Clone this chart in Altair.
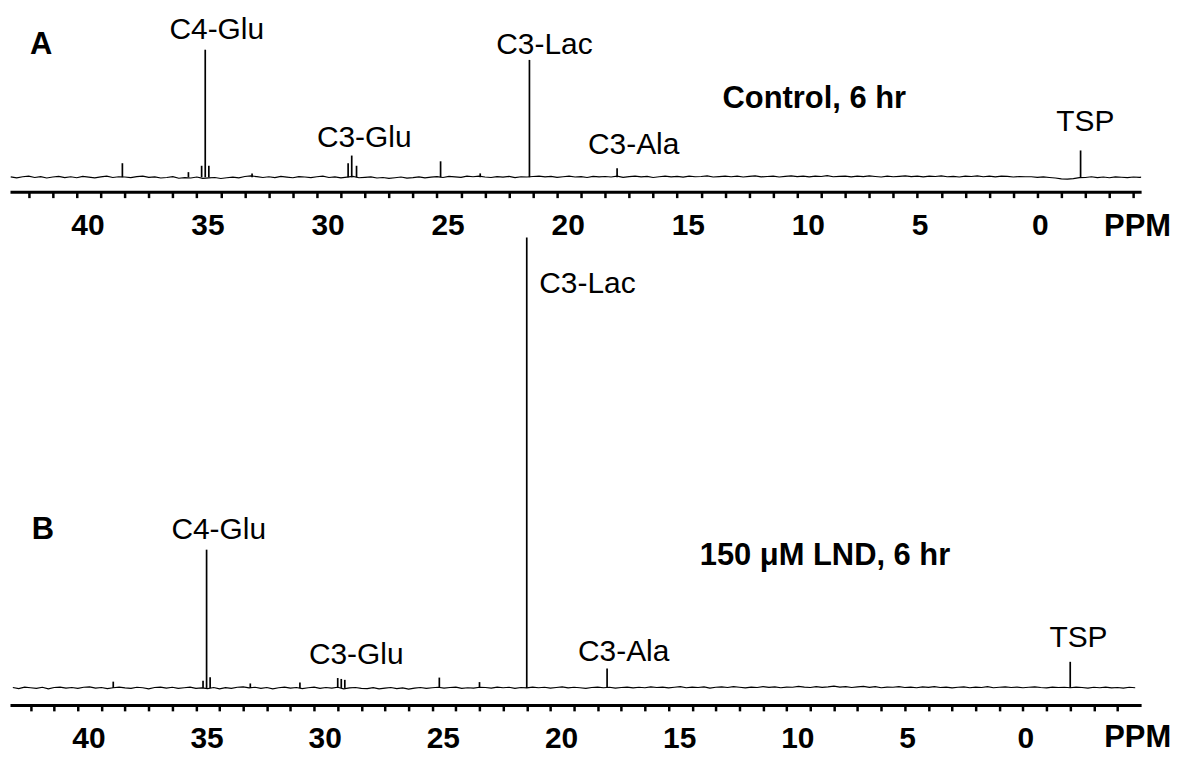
import altair as alt
import pandas as pd

# ---------------- data ----------------
# chemical-shift grid (ppm) for the hand-read baseline noise
grid_ppm = [42.75 - 0.25 * i for i in range(191)]

# baseline level (arbitrary units, C4-Glu = 100)
base_A = [0.3, -0.5, 0.4, 0.9, -0.2, 0.5, -0.6, 0.2, 0.7, -0.3,
          0.4, -0.4, 0.6, 0.1, -0.5, 0.3, 0.8, -0.2, 0.4, 0.2,
          -0.3, 0.5, 0.9, -0.1, 0.3, -0.6, -0.2, 0.4, -0.8, -0.3,
          -0.6, 0.2, -0.9, -0.5, -0.2, -1.0, -0.4, 0.1, -0.5, 0.6,
          1.0, 0.5, -0.2, 0.4, -0.3, 0.6, 0.1, -0.4, 0.5, 0.2,
          -0.3, 0.4, 0.8, -0.2, 0.3, -0.5, 0.1, 0.6, -0.4, -0.1,
          0.3, -0.6, -0.2, -0.9, -0.4, 0.2, -0.7, -0.3, 0.3, -0.5,
          0.1, 0.5, -0.2, 0.6, 0.3, -0.1, 0.8, 0.4, 0.9, 0.2,
          -0.2, 0.5, 0.1, 0.7, -0.3, 0.4, 0.2, 0.6, 0.9, 0.3,
          0.6, -0.1, 0.4, 0.8, 0.2, 0.5, -0.2, 0.7, 0.3, 0.6,
          0.2, 0.8, -0.1, 0.5, 0.9, 0.3, 0.6, -0.2, 0.4, 0.8,
          0.3, 0.7, 0.1, 0.9, 0.4, 0.6, 1.0, 0.2, 0.5, 0.8,
          0.4, 0.9, 0.2, 0.7, 1.1, 0.3, 0.6, 0.9, 0.2, 0.7,
          1.0, 0.5, 0.8, 0.3, 0.9, 0.6, 1.2, 0.4, 0.7, 0.9,
          0.3, 0.8, 0.5, 1.1, 0.6, 0.2, 0.9, 0.4, 0.7, 1.0,
          0.5, 0.8, 0.3, 0.9, 0.6, 1.0, 0.4, 0.7, 0.2, 0.8,
          0.6, 1.1, 0.4, 0.8, 0.3, 0.9, 0.7, 0.2, 0.6, 0.4,
          0.4, -0.1, 0.3, -0.2, -0.6, -1.3, -1.5, -1.1, -0.3, -0.2,
          0.4, -0.3, 0.2, -0.4, 0.3, 0.0, -0.3, 0.2, -0.1, 0.3,
          0.1]

# baseline level (arbitrary units, C3-Lac = 100)
base_B = [0.1, -0.15, 0.2, 0.05, -0.1, 0.15, -0.2, 0.1, 0.2, -0.05,
          0.1, -0.1, 0.15, 0.25, -0.05, 0.1, -0.15, 0.05, 0.2, 0.0,
          -0.1, 0.15, 0.05, -0.2, 0.1, 0.2, -0.05, 0.15, -0.1, 0.05,
          0.2, -0.1, 0.0, -0.15, 0.1, -0.2, 0.05, -0.1, 0.15, 0.25,
          0.0, 0.15, -0.1, 0.1, -0.2, 0.05, 0.2, -0.05, 0.1, -0.15,
          0.05, 0.2, -0.1, 0.1, -0.05, 0.15, -0.2, 0.0, 0.1, -0.1,
          -0.15, 0.05, -0.2, -0.05, 0.1, -0.15, 0.0, -0.25, -0.05, 0.1,
          -0.1, 0.05, 0.15, -0.05, 0.1, 0.2, -0.1, 0.05, -0.05, 0.15,
          0.1, -0.05, 0.2, 0.05, 0.15, -0.1, 0.1, 0.0, 0.2, 0.05,
          0.15, -0.05, 0.1, 0.25, 0.0, 0.15, 0.05, -0.1, 0.1, 0.2,
          0.05, 0.15, -0.05, 0.1, 0.2, 0.0, 0.15, 0.05, 0.25, 0.1,
          0.2, 0.0, 0.15, 0.3, 0.05, 0.2, 0.1, 0.25, -0.05, 0.15,
          0.25, 0.1, 0.3, 0.15, 0.0, 0.2, 0.1, 0.3, 0.15, 0.25,
          0.05, 0.2, 0.15, 0.35, 0.2, 0.1, 0.3, 0.15, 0.25, 0.4,
          0.2, 0.3, 0.1, 0.25, 0.35, 0.15, 0.3, 0.05, 0.2, 0.15,
          0.3, 0.1, 0.2, 0.05, 0.25, 0.15, 0.3, 0.1, 0.2, 0.0,
          0.15, 0.25, 0.05, 0.2, 0.1, 0.3, 0.05, 0.15, 0.25, 0.1,
          0.2, 0.05, 0.15, 0.25, 0.1, 0.0, 0.2, 0.1, 0.15, 0.05,
          0.2, 0.1, -0.05, 0.15, 0.05, 0.2, 0.0, 0.1, -0.05, 0.15,
          0.05]

# resonances (ppm) and peak intensities
peak_ppm_A = [38.1, 35.35, 34.8, 34.65, 34.5, 32.7, 28.7, 28.55, 28.35, 24.85, 23.2, 21.15, 17.5, -1.8]
peak_int_A = [11, 4, 9, 100, 9, 3, 11, 17, 9, 12.5, 3, 92, 7, 21]

peak_ppm_B = [38.5, 34.7, 34.55, 34.4, 32.7, 30.6, 29.0, 28.85, 28.7, 24.7, 23.0, 21.0, 17.6, -2.0]
peak_int_B = [1.4, 1.6, 30.7, 2.4, 1.0, 1.2, 2.2, 2.0, 1.8, 2.3, 1.3, 100, 4.3, 5.8]

# annotations (anchored in data units: ppm, intensity)
label_text_A = ["C4-Glu", "C3-Lac", "C3-Glu", "C3-Ala", "TSP"]
label_ppm_A = [36.14, 22.53, 30.0, 18.71, -0.79]
label_int_A = [108.2, 96.5, 23.8, 18.4, 36.3]
title_text_A = ["A", "Control, 6 hr", "PPM"]
title_ppm_A = [41.95, 13.11, -2.78]
title_int_A = [96.5, 54.3, -45.7]

label_text_B = ["C4-Glu", "C3-Lac", "C3-Glu", "C3-Ala", "TSP"]
label_ppm_B = [36.04, 20.47, 30.22, 18.83, -1.12]
label_int_B = [32.96, 87.6, 5.3, 6.0, 9.1]
title_text_B = ["B", "150 \u03bcM LND, 6 hr", "PPM"]
title_ppm_B = [41.95, 13.68, -3.44]
title_int_B = [32.96, 27.2, -13.05]

tick_values = list(range(-4, 43))

FONT = "Liberation Sans"


def panel(base_vals, pk_ppm, pk_int, lab_txt, lab_ppm, lab_int,
          tit_txt, tit_ppm, tit_int, xdom, ydom, h):
    x = alt.X(
        "ppm:Q",
        title=None,
        scale=alt.Scale(domain=xdom, nice=False, zero=False),
        axis=alt.Axis(
            values=tick_values,
            labelExpr="datum.value % 5 === 0 ? datum.label : ''",
            labelFont=FONT, labelFontSize=30, labelFontWeight="bold",
            labelColor="black", labelAlign="left", labelOffset=-6,
            labelPadding=13, labelOverlap=False, labelFlush=False,
            tickSize=6, tickWidth=2.5, tickColor="black",
            domainWidth=3, domainColor="black", grid=False, orient="bottom",
        ),
    )
    y = alt.Y("val:Q", axis=None,
              scale=alt.Scale(domain=ydom, nice=False, zero=False))

    line = alt.Chart(pd.DataFrame({"ppm": grid_ppm, "val": base_vals})).mark_line(
        color="black", strokeWidth=1.2, clip=True
    ).encode(x=x, y=y)

    peaks = alt.Chart(pd.DataFrame({"ppm": pk_ppm, "val": pk_int,
                                    "base": [0] * len(pk_ppm)})).mark_rule(
        color="black", strokeWidth=1.7
    ).encode(x=x, y=y, y2="base:Q")

    labels = alt.Chart(pd.DataFrame({"ppm": lab_ppm, "val": lab_int, "t": lab_txt})).mark_text(
        align="left", baseline="alphabetic", font=FONT, fontSize=30, color="black"
    ).encode(x=x, y=y, text="t:N")

    titles = alt.Chart(pd.DataFrame({"ppm": tit_ppm, "val": tit_int, "t": tit_txt})).mark_text(
        align="left", baseline="alphabetic", font=FONT, fontSize=31,
        fontWeight="bold", color="black"
    ).encode(x=x, y=y, text="t:N")

    return alt.layer(line, peaks, labels, titles).properties(width=1135, height=h)


panel_A = panel(base_A, peak_ppm_A, peak_int_A, label_text_A, label_ppm_A, label_int_A,
                title_text_A, title_ppm_A, title_int_A,
                [42.78, -4.32], [-11.3, 131.7], 183)
panel_B = panel(base_B, peak_ppm_B, peak_int_B, label_text_B, label_ppm_B, label_int_B,
                title_text_B, title_ppm_B, title_int_B,
                [42.87, -5.0], [-3.76, 100.22], 470)

chart = alt.vconcat(panel_A, panel_B, spacing=45, bounds="flush").properties(
    padding={"left": 2, "top": 0, "right": 0, "bottom": 0}
).configure_view(strokeWidth=0)

chart.save("out.html", embed_options={"renderer": "svg", "actions": False})
